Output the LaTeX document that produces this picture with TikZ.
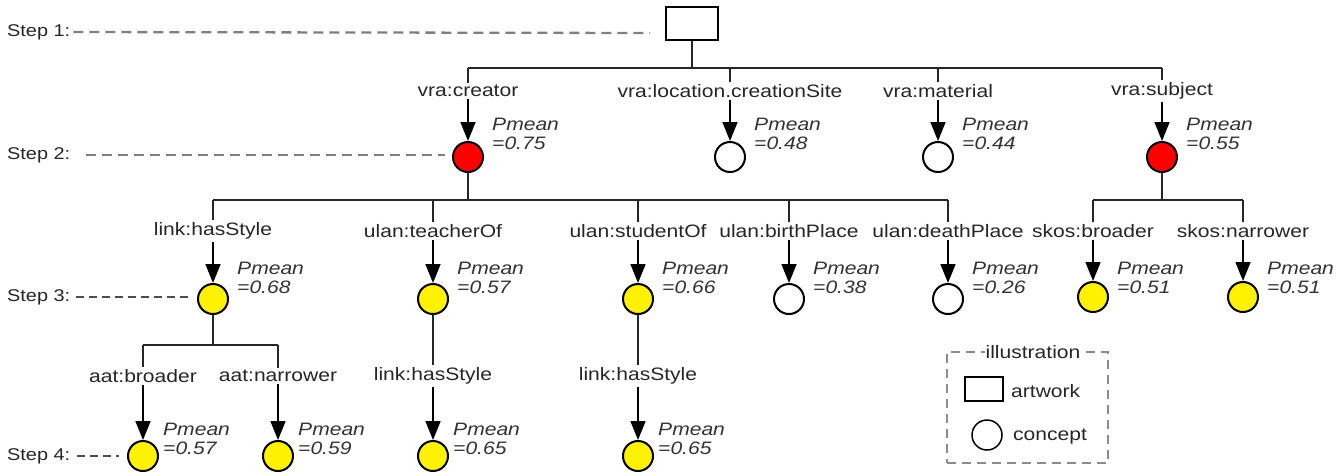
\documentclass[tikz,border=0pt]{standalone}
\usepackage{fontspec}
\setmainfont{Liberation Sans}[FakeStretch=1.17]
\usetikzlibrary{arrows.meta}
\begin{document}
\begin{tikzpicture}[x=1pt,y=-1pt,
  every node/.style={font=\fontsize{18}{20}\selectfont},
  lbl/.style={inner sep=2pt, text=black!85},
  concept/.style={circle, draw=black, line width=2pt, minimum size=30pt, inner sep=0pt},
  redc/.style={concept, fill=red},
  yelc/.style={concept, fill=yellow},
  whc/.style={concept, fill=white},
  pm/.style={anchor=west, align=left, inner sep=0pt, text=black!80, font=\fontsize{18}{19}\selectfont\itshape},
  tree/.style={draw=black!85, line width=1.7pt},
  arr/.style={draw=black, line width=1.6pt, -{Triangle[width=15pt,length=19pt]}},
  stepdash/.style={draw=black!50, line width=2.3pt, dash pattern=on 10pt off 6pt},
  stepdashb/.style={draw=black!70, line width=1.7pt, dash pattern=on 8pt off 5pt},
  steptext/.style={anchor=west, inner sep=0pt, text=black!85, font=\fontsize{17}{19}\selectfont},
]
\useasboundingbox (0,0) rectangle (1343,475);

% ---------- step labels ----------
\node[steptext] (s1) at (7,32) {Step 1:};
\node[steptext] (s2) at (7,155) {Step 2:};
\node[steptext] (s3) at (7,297) {Step 3:};
\node[steptext] (s4) at (7,456) {Step 4:};

% ---------- root ----------
\node[draw=black, line width=1.6pt, minimum width=52pt, minimum height=33pt, inner sep=0pt] (art) at (692,23.5) {};

\coordinate (d1) at (650,33);
\coordinate (d2) at (445,155);
\coordinate (d3) at (190,297);
\coordinate (d4) at (119,456);
\draw[stepdash] (s1.east) ++(3,0) -- (d1);
\draw[stepdash] ([xshift=16pt]s2.east) -- (d2);
\draw[stepdashb] ([xshift=6pt]s3.east) -- (d3);
\draw[stepdashb] ([xshift=7pt]s4.east) -- (d4);

% ---------- level 1 ----------
\coordinate (bus1) at (0,68);
\node[lbl] (p1) at (468,91) {vra:creator};
\node[lbl] (p2) at (730,91) {vra:location.creationSite};
\node[lbl] (p3) at (938,91) {vra:material};
\node[lbl] (p4) at (1162,91) {vra:subject};

\node[redc] (c1) at (468,157) {};
\node[whc]  (c2) at (730,157) {};
\node[whc]  (c3) at (938,157) {};
\node[redc] (c4) at (1162,157) {};

\draw[tree] (art.south) -- (art.south |- bus1);
\draw[tree] (p1.north |- bus1) -- (p4.north |- bus1);
\foreach \p in {p1,p2,p3,p4} \draw[tree] (\p.north |- bus1) -- (\p.north);
\draw[arr] (p1.south) -- (c1.north);
\draw[arr] (p2.south) -- (c2.north);
\draw[arr] (p3.south) -- (c3.north);
\draw[arr] (p4.south) -- (c4.north);

\node[pm] (m1) at ([shift={(24,-23)}]c1.center) {Pmean\\=0.75};
\node[pm] (m2) at ([shift={(24,-23)}]c2.center) {Pmean\\=0.48};
\node[pm] (m3) at ([shift={(24,-23)}]c3.center) {Pmean\\=0.44};
\node[pm] (m4) at ([shift={(24,-23)}]c4.center) {Pmean\\=0.55};

% ---------- level 2 ----------
\coordinate (bus2) at (0,200);
\node[lbl] (q1) at (213,231) {link:hasStyle};
\node[lbl] (q2) at (433,231) {ulan:teacherOf};
\node[lbl] (q3) at (638,231) {ulan:studentOf};
\node[lbl] (q4) at (789,231) {ulan:birthPlace};
\node[lbl] (q5) at (948,231) {ulan:deathPlace};
\node[lbl] (q6) at (1093,231) {skos:broader};
\node[lbl] (q7) at (1243,231) {skos:narrower};

\node[yelc] (e1) at (213,299) {};
\node[yelc] (e2) at (433,299) {};
\node[yelc] (e3) at (638,299) {};
\node[whc]  (e4) at (789,299) {};
\node[whc]  (e5) at (948,299) {};
\node[yelc] (e6) at (1093,297) {};
\node[yelc] (e7) at (1243,297) {};

\draw[tree] (c1.south) -- (c1.south |- bus2);
\draw[tree] (q1.north |- bus2) -- (q5.north |- bus2);
\foreach \q in {q1,q2,q3,q4,q5} \draw[tree] (\q.north |- bus2) -- (\q.north);
\draw[tree] (c4.south) -- (c4.south |- bus2);
\draw[tree] (q6.north |- bus2) -- (q7.north |- bus2);
\foreach \q in {q6,q7} \draw[tree] (\q.north |- bus2) -- (\q.north);

\draw[arr] (q1.south) -- (e1.north);
\draw[arr] (q2.south) -- (e2.north);
\draw[arr] (q3.south) -- (e3.north);
\draw[arr] (q4.south) -- (e4.north);
\draw[arr] (q5.south) -- (e5.north);
\draw[arr] (q6.south) -- (e6.north);
\draw[arr] (q7.south) -- (e7.north);

\node[pm] (n1) at ([shift={(24,-21)}]e1.center) {Pmean\\=0.68};
\node[pm] (n2) at ([shift={(24,-21)}]e2.center) {Pmean\\=0.57};
\node[pm] (n3) at ([shift={(24,-21)}]e3.center) {Pmean\\=0.66};
\node[pm] (n4) at ([shift={(24,-21)}]e4.center) {Pmean\\=0.38};
\node[pm] (n5) at ([shift={(24,-21)}]e5.center) {Pmean\\=0.26};
\node[pm] (n6) at ([shift={(24,-19)}]e6.center) {Pmean\\=0.51};
\node[pm] (n7) at ([shift={(24,-19)}]e7.center) {Pmean\\=0.51};

% ---------- level 3 ----------
\coordinate (bus3) at (0,345);
\node[lbl] (r1) at (143,376) {aat:broader};
\node[lbl] (r2) at (278,376) {aat:narrower};
\node[lbl] (r3) at (433,376) {link:hasStyle};
\node[lbl] (r4) at (638,376) {link:hasStyle};

\node[yelc] (f1) at (143,456) {};
\node[yelc] (f2) at (278,456) {};
\node[yelc] (f3) at (433,456) {};
\node[yelc] (f4) at (638,456) {};

\draw[tree] (e1.south) -- (e1.south |- bus3);
\draw[tree] (r1.north |- bus3) -- (r2.north |- bus3);
\foreach \r in {r1,r2} \draw[tree] (\r.north |- bus3) -- (\r.north);
\draw[tree] (e2.south) -- (r3.north);
\draw[tree] (e3.south) -- (r4.north);

\draw[arr] (r1.south) -- (f1.north);
\draw[arr] (r2.south) -- (f2.north);
\draw[arr] (r3.south) -- (f3.north);
\draw[arr] (r4.south) -- (f4.north);

\node[pm] (o1) at ([shift={(20,-17)}]f1.center) {Pmean\\=0.57};
\node[pm] (o2) at ([shift={(20,-17)}]f2.center) {Pmean\\=0.59};
\node[pm] (o3) at ([shift={(20,-17)}]f3.center) {Pmean\\=0.65};
\node[pm] (o4) at ([shift={(20,-17)}]f4.center) {Pmean\\=0.65};

% ---------- legend ----------
\node[draw=black!45, line width=1.6pt, dash pattern=on 9pt off 6pt, minimum width=161pt, minimum height=111pt, inner sep=0pt] (leg) at (1027.5,407.5) {};
\node[fill=white, inner sep=1pt, text=black!85] (legt) at (1033,352) {illustration};
\node[draw=black, line width=1.6pt, minimum width=38pt, minimum height=24pt, inner sep=0pt] (lrect) at (984,389) {};
\node[anchor=west, inner sep=0pt, text=black!85] (lart) at (1011,391) {artwork};
\node[concept, fill=white, line width=1.5pt] (lcirc) at (987,435) {};
\node[anchor=west, inner sep=0pt, text=black!85] (lcon) at (1013,437) {concept};
\end{tikzpicture}
\end{document}
